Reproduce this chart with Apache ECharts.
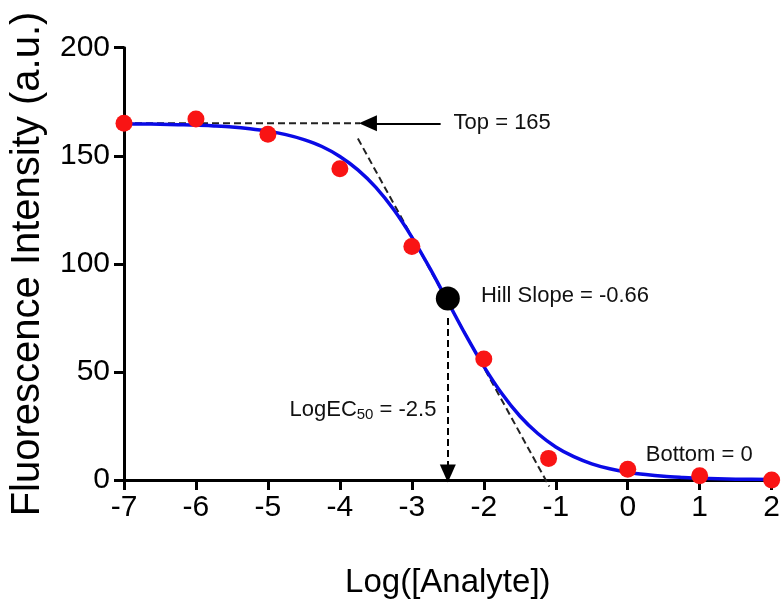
<!DOCTYPE html>
<html>
<head>
<meta charset="utf-8">
<script src="https://cdn.jsdelivr.net/npm/echarts@6/dist/echarts.min.js"></script>
<style>
  html, body { margin: 0; padding: 0; background: #fff; }
  #chart { width: 783px; height: 604px; }
</style>
</head>
<body>
<div id="chart"></div>
<script>
// measured points (red)
const logConc = [-7, -6, -5, -4, -3, -2, -1.1, 0, 1, 2];
const intensity = [165, 167, 160, 144, 108, 56, 10, 5, 2, 0];

// fitted curve
const curveX = [-7, -6.75, -6.5, -6.25, -6, -5.75, -5.5, -5.25, -5, -4.75, -4.5, -4.25, -4, -3.75, -3.5, -3.25, -3, -2.75, -2.5, -2.25, -2, -1.75, -1.5, -1.25, -1, -0.75, -0.5, -0.25, 0, 0.25, 0.5, 0.75, 1, 1.5, 2];
const curveY = [164.8, 164.7, 164.6, 164.4, 164.2, 163.8, 163.3, 162.5, 161.4, 159.8, 157.5, 154.3, 149.7, 143.5, 135.4, 125.0, 112.4, 98.0, 82.5, 67.0, 52.6, 40.0, 29.6, 21.5, 15.3, 10.8, 7.5, 5.2, 3.6, 2.5, 1.7, 1.2, 0.8, 0.4, 0.2];

// EC50 point (black)
const ec50Point = [-2.5, 84];

// guide lines
const topLine = [[-7, 165], [-3.72, 165]];
const slopeLine = [[-3.75, 158], [-1.09, -3]];
const topArrow = [[-2.6, 165], [-3.61, 165]];
const ec50Arrow = [[-2.5, 75], [-2.5, 3]];

// annotations: [x, y, text]
const notes = [
  [-2.42, 165, 'Top = 165'],
  [-2.04, 85, 'Hill Slope = -0.66'],
  [-4.7, 32.6, 'LogEC{sub|50} = -2.5'],
  [0.25, 11.4, 'Bottom = 0']
];

const xTicks = [-7, -6, -5, -4, -3, -2, -1, 0, 1, 2];
const yTicks = [0, 50, 100, 150, 200];

const chart = echarts.init(document.getElementById('chart'));

const font = 'Liberation Sans, Arial, sans-serif';

const option = {
  animation: false,
  grid: {
    left: 124,
    right: 8,
    top: 47.7,
    bottom: 122.3
  },
  xAxis: {
    type: 'value',
    min: xTicks[0],
    max: xTicks[xTicks.length - 1],
    interval: 1,
    name: 'Log([Analyte])',
    nameLocation: 'middle',
    nameGap: 86,
    nameTextStyle: { fontSize: 33, color: '#000', fontFamily: font },
    splitLine: { show: false },
    axisLine: { onZero: false, lineStyle: { color: '#000', width: 3 } },
    axisTick: { inside: false, length: 10, lineStyle: { color: '#000', width: 3 } },
    axisLabel: { fontSize: 30, color: '#000', fontFamily: font, margin: 13 }
  },
  yAxis: {
    type: 'value',
    min: yTicks[0],
    max: yTicks[yTicks.length - 1],
    interval: 50,
    splitLine: { show: false },
    // keep the axis on the left edge, not at x = 0
    axisLine: { show: true, onZero: false, lineStyle: { color: '#000', width: 3 } },
    axisTick: { show: true, length: 10, lineStyle: { color: '#000', width: 3 } },
    axisLabel: { fontSize: 30, color: '#000', fontFamily: font, margin: 14 }
  },
  graphic: [
    {
      // y axis title
      type: 'text',
      x: 28,
      y: 264,
      rotation: Math.PI / 2,
      style: {
        text: 'Fluorescence Intensity (a.u.)',
        font: '40px ' + font,
        fill: '#000',
        align: 'center',
        verticalAlign: 'middle'
      }
    }
  ],
  series: [
    {
      // dashed top plateau
      type: 'line',
      data: topLine,
      symbol: 'none',
      lineStyle: { color: '#222', width: 2, type: [7, 4] },
      z: 1
    },
    {
      // dashed hill slope tangent
      type: 'line',
      data: slopeLine,
      symbol: 'none',
      clip: false,
      lineStyle: { color: '#222', width: 2, type: [7, 4] },
      z: 1
    },
    {
      // fitted curve
      type: 'line',
      data: curveX.map((x, i) => [x, curveY[i]]),
      smooth: 0.3,
      symbol: 'none',
      lineStyle: { color: '#0a0ae6', width: 3.5 },
      z: 2,
      markLine: {
        silent: true,
        symbol: ['none', 'triangle'],
        symbolSize: [16, 18],
        label: { show: false },
        data: [
          [
            { coord: topArrow[0], lineStyle: { color: '#000', width: 2, type: 'solid' } },
            { coord: topArrow[1] }
          ],
          [
            { coord: ec50Arrow[0], lineStyle: { color: '#000', width: 2, type: [7, 4] } },
            { coord: ec50Arrow[1] }
          ]
        ]
      }
    },
    {
      // measured points
      type: 'scatter',
      data: logConc.map((x, i) => [x, intensity[i]]),
      symbolSize: 17,
      clip: false,
      itemStyle: { color: '#f91414', opacity: 1 },
      z: 3
    },
    {
      type: 'scatter',
      data: [ec50Point],
      symbolSize: 24,
      itemStyle: { color: '#000', opacity: 1 },
      z: 4
    },
    {
      // text notes
      type: 'scatter',
      data: notes.map(n => ({ value: [n[0], n[1]], text: n[2] })),
      symbolSize: 0,
      silent: true,
      itemStyle: { opacity: 1 },
      label: {
        show: true,
        position: 'right',
        distance: 0,
        fontSize: 22,
        fontFamily: font,
        color: '#111',
        formatter: p => p.data.text,
        rich: {
          sub: { fontSize: 15, fontFamily: font, color: '#111', verticalAlign: 'bottom', padding: [10, 0, 0, 0] }
        }
      },
      z: 5
    }
  ]
};

chart.setOption(option);
</script>
</body>
</html>
